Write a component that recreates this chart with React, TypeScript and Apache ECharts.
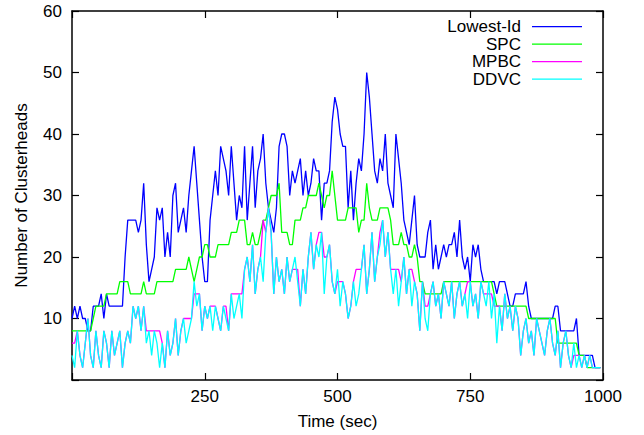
import React, { useEffect, useRef } from 'react';
import * as echarts from 'echarts';

// Sampling interval of the simulation traces (seconds)
const SAMPLE_STEP = 5;

const xTickLabels = [250, 500, 750, 1000];
const yTickLabels = [10, 20, 30, 40, 50, 60];

const seriesNames = ['Lowest-Id', 'SPC', 'MPBC', 'DDVC'];
const seriesColors = ['#0000ff', '#00ff00', '#ff00ff', '#00ffff'];

// Number of clusterheads, one value every SAMPLE_STEP seconds (t = 0 .. 995)
const lowestId = [
  10, 12, 10, 12, 10, 10, 8, 8, 12, 12, 12, 14, 10, 14, 12, 12, 12, 12, 12, 12,
  20, 26, 26, 26, 26, 24, 26, 32, 22, 16, 18, 20, 28, 26, 28, 20, 24, 20, 30, 32,
  24, 26, 28, 24, 30, 34, 38, 32, 26, 20, 16, 16, 26, 30, 34, 30, 38, 36, 34, 30,
  38, 32, 26, 30, 28, 38, 26, 32, 38, 28, 34, 36, 40, 32, 28, 26, 24, 28, 38, 40,
  40, 38, 30, 34, 32, 34, 36, 30, 34, 30, 32, 36, 34, 34, 26, 32, 32, 34, 42, 46,
  44, 40, 38, 38, 28, 34, 26, 32, 36, 34, 40, 50, 46, 40, 34, 32, 36, 34, 40, 32,
  30, 28, 40, 36, 32, 26, 24, 22, 26, 30, 22, 20, 20, 20, 24, 26, 18, 22, 18, 20,
  22, 20, 22, 22, 24, 20, 26, 20, 18, 20, 16, 22, 20, 22, 18, 16, 16, 16, 16, 16,
  14, 16, 16, 16, 14, 12, 12, 14, 14, 14, 14, 16, 12, 10, 10, 10, 10, 10, 10, 10,
  10, 10, 12, 12, 8, 8, 8, 8, 8, 8, 10, 4, 4, 4, 4, 4, 4, 2, 2, 2,
];

const spc = [
  8, 8, 8, 8, 8, 8, 8, 8, 10, 12, 12, 12, 12, 14, 14, 14, 14, 14, 16, 16,
  16, 16, 14, 14, 14, 14, 14, 16, 14, 14, 14, 14, 16, 16, 16, 16, 16, 16, 16, 18,
  18, 18, 18, 18, 20, 18, 16, 18, 20, 20, 22, 22, 20, 20, 20, 22, 22, 22, 22, 22,
  24, 24, 24, 26, 26, 26, 22, 22, 24, 22, 22, 24, 26, 26, 28, 30, 30, 30, 32, 24,
  24, 24, 22, 22, 26, 26, 26, 28, 28, 30, 30, 30, 30, 32, 30, 28, 30, 30, 34, 30,
  26, 26, 26, 26, 28, 28, 28, 28, 24, 26, 26, 32, 28, 26, 26, 26, 28, 28, 28, 28,
  26, 22, 22, 22, 24, 22, 22, 20, 20, 22, 20, 16, 16, 14, 14, 14, 14, 14, 14, 14,
  16, 16, 16, 16, 16, 16, 16, 16, 16, 16, 16, 16, 16, 16, 16, 16, 16, 16, 16, 14,
  12, 12, 12, 12, 12, 12, 12, 12, 12, 12, 12, 12, 10, 10, 10, 10, 10, 10, 10, 10,
  10, 10, 10, 6, 6, 6, 6, 6, 6, 6, 6, 4, 4, 4, 2, 2, 2, 2, 2, 2,
];

const mpbc = [
  6, 6, 8, 4, 2, 6, 10, 4, 2, 8, 4, 2, 8, 6, 2, 8, 4, 6, 8, 2,
  6, 8, 6, 12, 10, 12, 8, 12, 8, 8, 8, 8, 8, 8, 6, 2, 8, 4, 6, 10,
  4, 8, 10, 10, 10, 10, 14, 14, 14, 8, 12, 10, 12, 12, 12, 10, 8, 12, 12, 8,
  14, 14, 14, 14, 14, 18, 20, 16, 22, 14, 18, 20, 26, 24, 28, 24, 14, 20, 16, 18,
  14, 20, 16, 18, 18, 18, 12, 18, 14, 20, 24, 18, 22, 24, 24, 20, 20, 22, 16, 14,
  16, 16, 16, 14, 10, 12, 16, 18, 18, 18, 22, 14, 18, 24, 16, 20, 24, 26, 20, 24,
  18, 18, 18, 18, 16, 20, 14, 18, 18, 16, 14, 8, 16, 12, 12, 14, 16, 12, 14, 10,
  16, 14, 12, 16, 10, 14, 16, 12, 14, 16, 16, 12, 14, 10, 16, 14, 14, 14, 14, 12,
  12, 12, 8, 14, 10, 12, 8, 12, 10, 4, 8, 10, 6, 8, 4, 10, 8, 6, 4, 8,
  10, 6, 4, 8, 2, 6, 8, 4, 2, 4, 4, 4, 2, 4, 2, 4, 2, 2, 2, 2,
];

const ddvc = [
  4, 2, 8, 4, 2, 6, 10, 4, 2, 8, 4, 2, 8, 6, 2, 8, 4, 6, 8, 2,
  6, 8, 6, 12, 10, 12, 8, 12, 6, 8, 4, 8, 6, 2, 6, 2, 8, 4, 6, 10,
  4, 8, 10, 6, 8, 10, 16, 12, 14, 8, 12, 10, 12, 8, 12, 10, 8, 12, 10, 8,
  14, 10, 12, 14, 10, 18, 20, 16, 22, 14, 18, 20, 16, 24, 28, 24, 14, 20, 16, 18,
  14, 20, 16, 18, 20, 16, 12, 18, 14, 20, 24, 18, 22, 20, 24, 14, 20, 22, 16, 14,
  18, 12, 16, 14, 10, 12, 16, 12, 14, 18, 22, 14, 18, 24, 16, 20, 22, 26, 20, 24,
  18, 14, 18, 12, 16, 20, 14, 18, 12, 16, 14, 8, 16, 10, 8, 14, 16, 12, 14, 10,
  16, 14, 12, 16, 10, 14, 16, 12, 14, 10, 16, 12, 14, 10, 16, 14, 12, 16, 10, 14,
  6, 12, 8, 14, 10, 12, 8, 12, 10, 4, 8, 10, 6, 8, 4, 10, 8, 6, 4, 8,
  10, 6, 4, 8, 2, 6, 8, 4, 2, 6, 2, 4, 2, 4, 2, 4, 2, 2, 2, 2,
];

const FONT = "'Liberation Sans', Arial, Helvetica, sans-serif";

export default function App() {
  const ref = useRef<HTMLDivElement>(null);

  useEffect(() => {
    if (!ref.current) return;
    const chart = echarts.init(ref.current, null, { renderer: 'svg' });
    const traces = [lowestId, spc, mpbc, ddvc];
    const toPairs = (arr: number[]) => arr.map((v, i) => [i * SAMPLE_STEP, v]);

    const frameLine = { show: true, onZero: false, lineStyle: { color: '#000', width: 1.5 } };
    const innerTick = { show: true, inside: true, length: 7, lineStyle: { color: '#000', width: 1.2 } };
    const labelStyle = { color: '#000', fontSize: 17, fontFamily: FONT };

    const legendX = 521;
    const legendY0 = 26.7;
    const legendDy = 17.5;
    const legendGraphics: any[] = [];
    seriesNames.forEach((name, k) => {
      const y = legendY0 + k * legendDy;
      legendGraphics.push({
        type: 'text',
        x: legendX,
        y,
        z: 100,
        style: {
          text: name,
          fill: '#000',
          fontSize: 17,
          fontFamily: FONT,
          align: 'right',
          verticalAlign: 'middle',
        },
      });
      legendGraphics.push({
        type: 'line',
        z: 100,
        shape: { x1: legendX + 11, y1: y, x2: legendX + 61, y2: y },
        style: { stroke: seriesColors[k], lineWidth: 1.3 },
      });
    });

    const option: any = {
      animation: false,
      backgroundColor: '#fff',
      grid: { left: 72, right: 41, top: 11, bottom: 53, containLabel: false },
      xAxis: [
        {
          type: 'value',
          min: 0,
          max: 1000,
          interval: 250,
          position: 'bottom',
          name: 'Time (sec)',
          nameLocation: 'middle',
          nameGap: 33,
          nameTextStyle: { ...labelStyle },
          axisLine: frameLine,
          axisTick: innerTick,
          axisLabel: {
            ...labelStyle,
            margin: 8,
            formatter: (v: number) => (xTickLabels.includes(v) ? String(v) : ''),
          },
          splitLine: { show: false },
        },
        {
          type: 'value',
          min: 0,
          max: 1000,
          interval: 250,
          position: 'top',
          axisLine: frameLine,
          axisTick: innerTick,
          axisLabel: { show: false },
          splitLine: { show: false },
        },
      ],
      yAxis: [
        {
          type: 'value',
          min: 0,
          max: 60,
          interval: 10,
          position: 'left',
          name: 'Number of Clusterheads',
          nameLocation: 'middle',
          nameGap: 42,
          nameRotate: 90,
          nameTextStyle: { ...labelStyle },
          axisLine: frameLine,
          axisTick: innerTick,
          axisLabel: {
            ...labelStyle,
            margin: 10,
            formatter: (v: number) => (yTickLabels.includes(v) ? String(v) : ''),
          },
          splitLine: { show: false },
        },
        {
          type: 'value',
          min: 0,
          max: 60,
          interval: 10,
          position: 'right',
          axisLine: frameLine,
          axisTick: innerTick,
          axisLabel: { show: false },
          splitLine: { show: false },
        },
      ],
      series: traces.map((arr, k) => ({
        type: 'line',
        name: seriesNames[k],
        data: toPairs(arr),
        xAxisIndex: 0,
        yAxisIndex: 0,
        showSymbol: false,
        symbol: 'none',
        lineStyle: { color: seriesColors[k], width: 1.3 },
        itemStyle: { color: seriesColors[k] },
        z: 2 + k,
      })),
      graphic: legendGraphics,
    };

    chart.setOption(option);
    return () => chart.dispose();
  }, []);

  return (
    <div
      ref={ref}
      style={{ position: 'absolute', left: 0, top: 0, width: 644, height: 435, background: '#fff' }}
    />
  );
}
